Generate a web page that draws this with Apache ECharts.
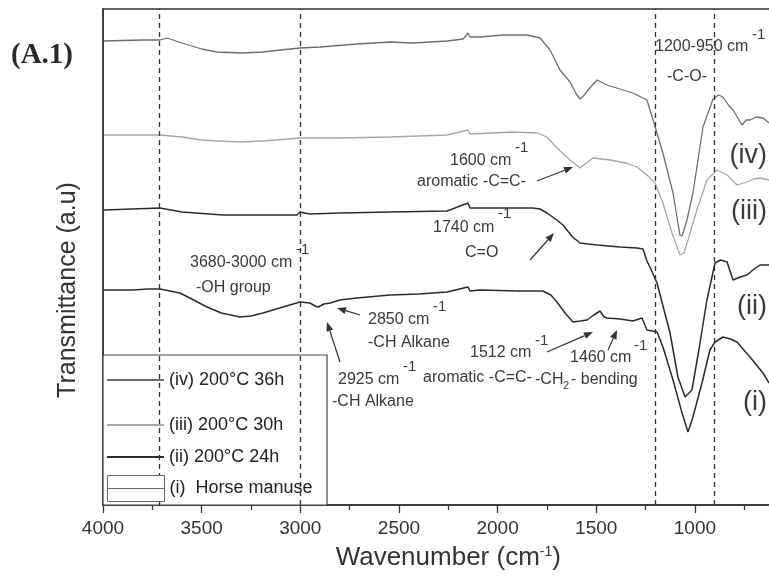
<!DOCTYPE html>
<html><head><meta charset="utf-8">
<script src="https://cdn.jsdelivr.net/npm/echarts@6/dist/echarts.min.js"></script>
<style>html,body{margin:0;padding:0;background:#fff}#c{width:769px;height:577px}</style>
</head><body><div id="c"></div>
<script>
// ---- data (wavenumber in cm-1, transmittance in arbitrary units) ----
const seriesNames = ['(iv) 200°C 36h', '(iii) 200°C 30h', '(ii) 200°C 24h', '(i)  Horse manuse'];

const wnIV = [3995,3800,3711,3676,3600,3500,3422,3300,3189,3100,3002,2900,2713,2545,2429,2256,2175,2150,2140,2089,1973,1851,1785,1734,1684,1633,1598,1582,1560,1542,1496,1446,1380,1314,1243,1212,1162,1111,1076,1065,1040,1010,959,908,880,858,830,807,761,740,721,690,655,624];
const tIV  = [464,465,465,467,462,456,453,452,453,455,457,458,461,463,462,464,466,472,468,468,470,470,467,455,435,423,410,406,410,415,425,420,416,412,405,385,352,312,270,269,285,312,378,406,410,408,400,395,380,385,385,388,387,382];

const wnIII = [3995,3711,3600,3500,3422,3300,3189,3002,2800,2545,2400,2256,2150,2140,1922,1800,1750,1699,1633,1582,1550,1516,1430,1350,1293,1243,1202,1162,1116,1076,1055,1035,990,939,888,837,787,736,700,670,624];
const tIII  = [370,370,368,365,364,363,364,367,367,368,369,370,375,371,373,372,368,357,345,337,342,347,345,342,338,330,322,302,272,250,252,265,295,325,335,330,320,323,326,327,325];

const wnII = [3995,3711,3600,3392,3200,3017,3002,2951,2800,2545,2256,2150,2140,2089,1900,1821,1785,1750,1700,1669,1620,1582,1540,1496,1380,1293,1263,1243,1228,1192,1126,1086,1050,1015,980,939,898,870,837,807,770,736,700,670,624];
const tII  = [295,297,293,290,290,290,293,291,292,293,294,302,297,297,297,297,296,292,285,280,268,262,261,260,258,257,256,244,238,222,172,128,108,115,155,205,242,245,243,225,228,230,236,240,240];

const wnI = [3995,3850,3772,3711,3610,3550,3473,3400,3306,3250,3189,3088,3002,2951,2925,2910,2880,2849,2799,2713,2545,2400,2256,2150,2140,2089,1900,1770,1730,1699,1658,1618,1580,1547,1512,1481,1460,1446,1380,1314,1268,1243,1192,1162,1111,1065,1035,1010,964,924,898,858,820,787,721,655,624];
const tI  = [215,215,216,216,212,206,198,192,188,189,192,198,203,202,199,198,201,202,205,207,210,211,213,218,214,215,214,214,210,203,192,183,184,185,190,194,188,187,186,184,187,175,173,158,125,92,73,88,122,155,163,168,166,163,148,132,122];

const guideLines = [3715, 3000, 1200, 900];
const xTickValues = [4000,3500,3000,2500,2000,1500,1000];

const zip = (a, b) => a.map((v, i) => [v, b[i]]);

const FONT = '"Liberation Sans", Arial, sans-serif';
const chart = echarts.init(document.getElementById('c'), null, {renderer: 'canvas'});

function txt(x, y, s, size, extra) {
  return Object.assign({type: 'text', x: x, y: y, z: 5, style: {text: s, fontSize: size || 16, fontFamily: FONT, fill: '#3a3a3a', verticalAlign: 'middle', align: 'left'}}, extra || {});
}
function rtxt(x, y, s, size) {
  return {type: 'text', x: x, y: y, z: 5, style: {text: s, fontSize: size, fontFamily: FONT, fill: '#3a3a3a', verticalAlign: 'middle', align: 'right'}};
}
function arrow(x1, y1, x2, y2) {
  const a = Math.atan2(y2 - y1, x2 - x1), L = 9, W = 3.5;
  const bx = x2 - L * Math.cos(a), by = y2 - L * Math.sin(a);
  const px = -Math.sin(a) * W, py = Math.cos(a) * W;
  return [
    {type: 'line', z: 5, shape: {x1: x1, y1: y1, x2: bx, y2: by}, style: {stroke: '#333', lineWidth: 1.2}},
    {type: 'polygon', z: 5, shape: {points: [[x2, y2], [bx + px, by + py], [bx - px, by - py]]}, style: {fill: '#333'}}
  ];
}

const graphics = [
  {type: 'rect', z: 3, shape: {x: 103, y: 355, width: 224, height: 150}, style: {fill: '#fff', stroke: '#444', lineWidth: 1.2}},
  {type: 'text', x: 11, y: 56, z: 5, style: {text: '(A.1)', font: 'bold 29px "Liberation Serif", "Times New Roman", serif', fill: '#2a2a2a', verticalAlign: 'middle'}},
  txt(655, 47, '1200-950 cm'), txt(752, 35, '-1', 15),
  txt(667, 77, '-C-O-'),
  txt(450, 161, '1600 cm'), txt(515, 148, '-1', 15),
  txt(417, 182, 'aromatic -C=C-'),
  txt(433, 228, '1740 cm'), txt(498, 214, '-1', 15),
  txt(465, 253, 'C=O'),
  txt(190, 263, '3680-3000 cm'), txt(296, 250, '-1', 15),
  txt(196, 288, '-OH group'),
  txt(368, 320, '2850 cm'), txt(433, 307, '-1', 15),
  txt(368, 343, '-CH Alkane'),
  txt(338, 380, '2925 cm'), txt(403, 367, '-1', 15),
  txt(332, 402, '-CH Alkane'),
  txt(423, 378, 'aromatic -C=C-'),
  txt(470, 353, '1512 cm'), txt(535, 341, '-1', 15),
  txt(570, 358, '1460 cm'), txt(634, 346, '-1', 15),
  txt(535, 380, '-CH'), txt(563, 386, '2', 11), txt(571, 380, '- bending'),
  rtxt(767, 156, '(iv)', 27), rtxt(767, 212, '(iii)', 27), rtxt(767, 307, '(ii)', 27), rtxt(767, 403, '(i)', 27)
].concat(
  arrow(537, 181, 573, 167),
  arrow(530, 260, 554, 233),
  arrow(360, 315, 337, 308),
  arrow(340, 362, 327, 322),
  arrow(547, 352, 593, 332),
  arrow(608, 350, 617, 330)
);

const legendCommon = {
  orient: 'horizontal', padding: 0, itemGap: 0, itemWidth: 57, itemHeight: 2, icon: 'rect',
  selectedMode: false, z: 10,
  textStyle: {fontSize: 18, lineHeight: 20, color: '#222', fontFamily: FONT}
};

const colors = ['#6e6e6e', '#a8a8a8', '#2b2b2b', '#2b2b2b'];
const widths = [1.3, 1.3, 1.5, 1.5];
const dataSets = [zip(wnIV, tIV), zip(wnIII, tIII), zip(wnII, tII), zip(wnI, tI)];

const series = dataSets.map((d, i) => ({
  name: seriesNames[i], type: 'line', data: d, symbol: 'none', silent: true, animation: false,
  color: colors[i], lineStyle: {color: colors[i], width: widths[i]}, z: 2
}));
series[3].markLine = {
  silent: true, symbol: 'none', animation: false, label: {show: false},
  lineStyle: {type: [5, 4], color: '#333', width: 1.3},
  data: guideLines.map(v => ({xAxis: v}))
};

chart.setOption({
  animation: false,
  backgroundColor: '#fff',
  grid: {left: 103, top: 9, width: 3500 * 0.1973, height: 496, show: true, borderColor: '#333', borderWidth: 1.5,
    backgroundColor: 'transparent', containLabel: false, outerBoundsMode: 'none'},
  xAxis: {
    type: 'value', inverse: true, min: 500, max: 4000, interval: 500,
    axisLine: {show: true, lineStyle: {color: '#333', width: 1.5}},
    axisTick: {show: true, length: 8, lineStyle: {color: '#333', width: 1.3}},
    minorTick: {show: true, splitNumber: 2, length: 5, lineStyle: {color: '#333', width: 1.2}},
    splitLine: {show: false},
    axisLabel: {margin: 14, fontSize: 19, color: '#333', fontFamily: FONT,
      formatter: v => (xTickValues.indexOf(v) >= 0 ? String(v) : '')},
    name: '{a|Wavenumber (cm}{s|-1}{a|)}', nameLocation: 'middle', nameGap: 40,
    nameTextStyle: {rich: {a: {fontSize: 26, color: '#333', fontFamily: FONT}, s: {fontSize: 14, color: '#333', fontFamily: FONT, verticalAlign: 'top', padding: [0, 0, 12, 0]}}}
  },
  yAxis: {
    type: 'value', min: 0, max: 496,
    axisLine: {show: true, lineStyle: {color: '#333', width: 1.5}},
    axisTick: {show: false}, axisLabel: {show: false}, splitLine: {show: false},
    name: 'Transmittance (a.u)', nameLocation: 'middle', nameGap: 22,
    nameTextStyle: {fontSize: 25, color: '#333', fontFamily: FONT, padding: [0, 66, 0, 0]}
  },
  legend: [
    Object.assign({}, legendCommon, {data: [seriesNames[0]], left: 107, top: 370}),
    Object.assign({}, legendCommon, {data: [seriesNames[1]], left: 107, top: 415}),
    Object.assign({}, legendCommon, {data: [seriesNames[2]], left: 107, top: 447}),
    Object.assign({}, legendCommon, {
      data: [{name: seriesNames[3], icon: 'path://M0,0H57V13H0ZM0,13H57V26H0Z', itemStyle: {color: '#fff', borderColor: '#666', borderWidth: 1}}],
      itemHeight: 26, left: 107, top: 475})
  ],
  graphic: graphics,
  series: series
});
</script>
</body></html>
